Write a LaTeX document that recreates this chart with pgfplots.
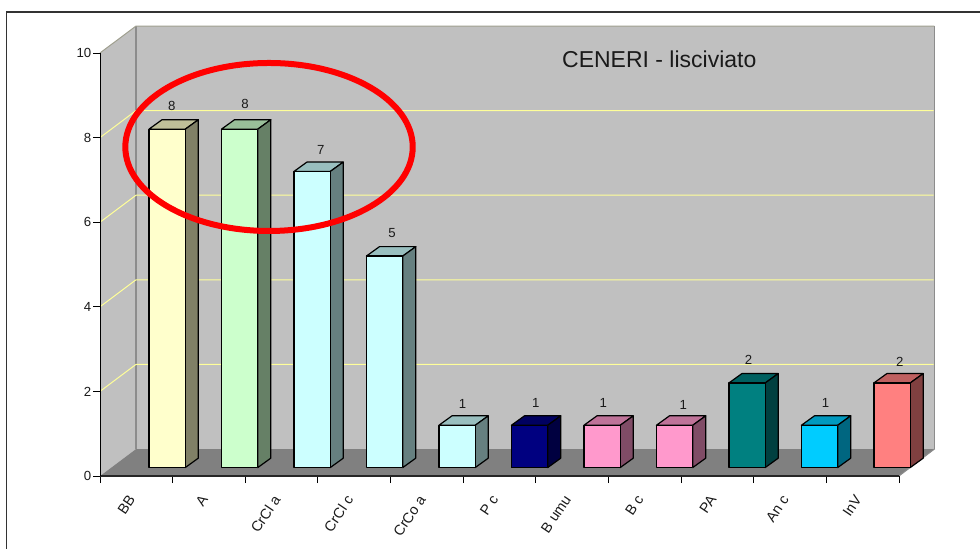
\documentclass[border=0pt]{standalone}
\usepackage{pgfplots}
\pgfplotsset{compat=1.18}
\usepackage{fontspec}
\setmainfont{Liberation Sans}

\definecolor{wall}{HTML}{C0C0C0}
\definecolor{floorgrey}{HTML}{808080}
\definecolor{walledge}{HTML}{8C8C8C}
\definecolor{rimedge}{HTML}{A0A090}
\definecolor{gridyellow}{HTML}{FFFF99}
\definecolor{inktext}{HTML}{1A1A1A}
\definecolor{barBB}{HTML}{FFFFCC}
\definecolor{barA}{HTML}{CCFFCC}
\definecolor{barCr}{HTML}{CCFFFF}
\definecolor{barNavy}{HTML}{000080}
\definecolor{barPink}{HTML}{FF99CC}
\definecolor{barTeal}{HTML}{008080}
\definecolor{barSky}{HTML}{00CCFF}
\definecolor{barSalmon}{HTML}{FF8080}

% Depth of the chart floor, and of each column, in axis units
\def\floorDX{0.4956}
\def\floorDY{0.638}
\def\barDX{0.179}
\def\barDY{0.222}
\def\barBase{0.2}
\def\barWidth{0.5}

% One column: position, value, colour, label offset x, label offset y
\newcommand{\cuboid}[5]{%
  \pgfmathsetmacro{\xa}{0.6746+0.998*#1}%
  \pgfmathsetmacro{\xb}{\xa+\barWidth}%
  \pgfmathsetmacro{\xc}{\xa+\barDX}%
  \pgfmathsetmacro{\xd}{\xb+\barDX}%
  \pgfmathsetmacro{\ya}{\barBase}%
  \pgfmathsetmacro{\yb}{\barBase+#2}%
  \pgfmathsetmacro{\yc}{\ya+\barDY}%
  \pgfmathsetmacro{\yd}{\yb+\barDY}%
  \addplot[draw=black,line width=1.2bp,line join=round,fill=#3!75!black]
    coordinates {(\xa,\yb) (\xb,\yb) (\xd,\yd) (\xc,\yd)} --cycle;
  \addplot[draw=black,line width=1.2bp,line join=round,fill=#3!50!black]
    coordinates {(\xb,\ya) (\xd,\yc) (\xd,\yd) (\xb,\yb)} --cycle;
  \addplot[draw=black,line width=1.2bp,line join=round,fill=#3]
    coordinates {(\xa,\ya) (\xb,\ya) (\xb,\yb) (\xa,\yb)} --cycle;
  \node[font=\fontsize{13.2bp}{15bp}\selectfont,text=inktext,inner sep=0pt]
    at (axis cs:{#1+#4},{#2+#5}) {#2};
}

% A yellow gridline running up the side wall and along the back wall
\newcommand{\gridrun}[1]{%
  \pgfmathsetmacro{\yg}{#1+\floorDY}%
  \pgfmathsetmacro{\xg}{11+\floorDX-0.02}%
  \addplot[gridyellow,line width=1bp]
    coordinates {(0,#1) (\floorDX,\yg) (\xg,\yg)};
}

\begin{document}
\begin{tikzpicture}
\useasboundingbox (-100bp,-73bp) rectangle (880bp,476bp);
% Outer frame, running off the right and bottom of the page
\draw[color=black!80,line width=1.6bp] (-93.5bp,-90bp) -- (-93.5bp,464bp) -- (900bp,464bp);
\begin{axis}[
  scale only axis,
  width=799bp, height=423bp,
  xmin=0, xmax=11, ymin=0, ymax=10,
  clip=false,
  axis on top,
  axis x line*=bottom,
  axis y line*=left,
  x axis line style={line width=1.7bp,color=black!85},
  y axis line style={line width=1bp,color=black},
  xtick={0,1,...,11},
  x tick label as interval,
  xticklabels={BB,A,CrCl a,CrCl c,CrCo a,P c,B umu,B c,PA,An c,InV},
  ytick={0,2,4,6,8,10},
  tick align=outside,
  major tick length=7bp,
  tick style={line width=0.9bp,color=black},
  ticklabel style={font=\fontsize{13.2bp}{15bp}\selectfont,text=inktext},
  xticklabel style={font=\fontsize{14.4bp}{16bp}\selectfont,rotate=56,anchor=east,inner sep=0pt,xshift=-14bp,yshift=-4bp},
  yticklabel style={inner sep=0pt,xshift=-1.5bp},
  /pgf/number format/assume math mode=true,
]
% Walls and floor
\addplot[draw=none,fill=wall] coordinates {(0,0) (0.4956,0.638) (0.4956,10.638) (0,10)} --cycle;
\addplot[draw=none,fill=wall] coordinates {(0.4956,0.638) (11.4956,0.638) (11.4956,10.638) (0.4956,10.638)} --cycle;
\addplot[draw=none,fill=floorgrey] coordinates {(0,0) (11,0) (11.4956,0.638) (0.4956,0.638)} --cycle;
\addplot[walledge,line width=1.5bp] coordinates {(0.4956,0.638) (0.4956,10.638)};
\addplot[walledge,line width=1.5bp] coordinates {(11.4866,0.638) (11.4866,10.638)};
\addplot[walledge,line width=1bp] coordinates {(11,0) (11.4866,0.638)};
\addplot[rimedge,line width=1bp] coordinates {(0,10) (0.4956,10.638) (11.4866,10.638)};
% Gridlines at the even values
\gridrun{2}
\gridrun{4}
\gridrun{6}
\gridrun{8}
% Columns
\cuboid{0}{8}{barBB}{0.99}{0.75}
\cuboid{1}{8}{barA}{0.996}{0.79}
\cuboid{2}{7}{barCr}{1.04}{0.71}
\cuboid{3}{5}{barCr}{1.02}{0.745}
\cuboid{4}{1}{barCr}{0.99}{0.70}
\cuboid{5}{1}{barNavy}{1.0}{0.73}
\cuboid{6}{1}{barPink}{0.93}{0.73}
\cuboid{7}{1}{barPink}{1.03}{0.68}
\cuboid{8}{2}{barTeal}{0.93}{0.74}
\cuboid{9}{1}{barSky}{0.99}{0.73}
\cuboid{10}{2}{barSalmon}{1.01}{0.70}
% Title inside the chart and the highlight ring
\node[font=\fontsize{23bp}{26bp}\selectfont,text=inktext,inner sep=0pt] at (axis cs:7.70,9.858) {CENERI - lisciviato};
\draw[red,line width=6bp] (axis cs:2.327,7.778) ellipse [x radius=143.7bp,y radius=84bp];
\end{axis}
\end{tikzpicture}
\end{document}
